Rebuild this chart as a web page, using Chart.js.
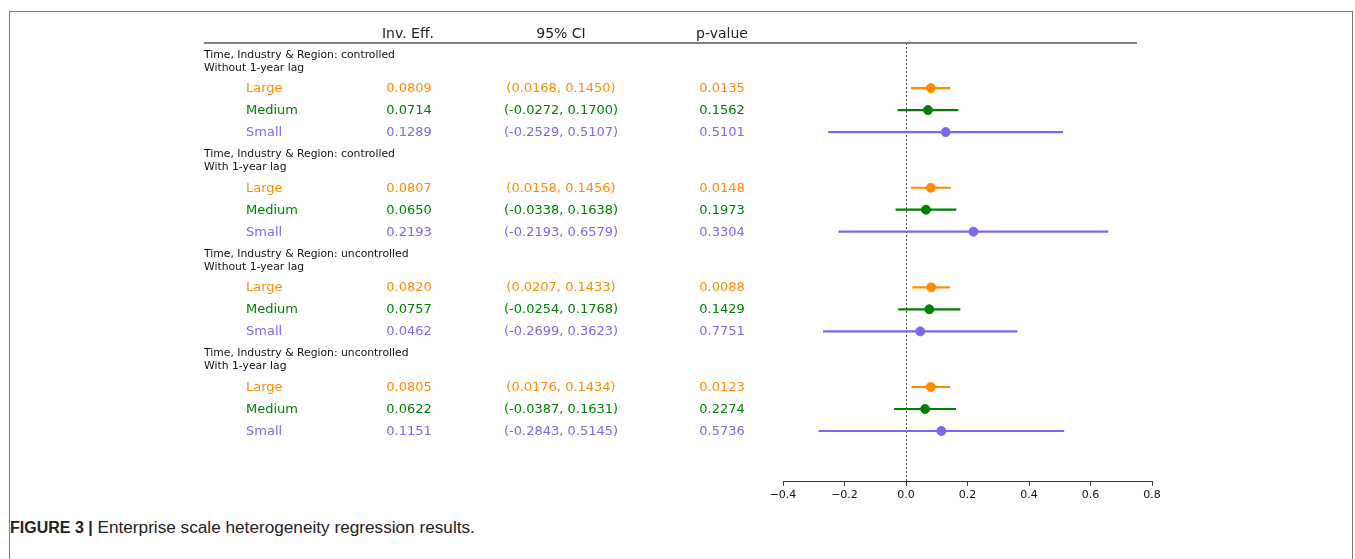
<!DOCTYPE html>
<html>
<head>
<meta charset="utf-8">
<script src="https://cdn.jsdelivr.net/npm/chart.js@4"></script>
<style>
  html, body { margin: 0; padding: 0; background: #fff; overflow: hidden; }
  body { width: 1355px; height: 559px; position: relative; }
  #frame { position: absolute; left: 9px; top: 11px; width: 1344px; height: 600px; border: 1px solid #7a7a7a; box-sizing: border-box; }
  #plot { position: absolute; left: 0; top: 0; }
  #caption { position: absolute; left: 10px; top: 517px; font-family: "Liberation Sans", Arial, sans-serif; font-size: 17.2px; color: #222; white-space: nowrap; }
  #caption b { font-weight: bold; font-size: 16px; }
</style>
</head>
<body>
<div id="frame"></div>
<canvas id="plot" width="1355" height="505"></canvas>
<div id="caption"><b>FIGURE 3 |</b> Enterprise scale heterogeneity regression results.</div>
<script>
// model groups (two-line titles)
const groupTitles = [
  ['Time, Industry & Region: controlled', 'Without 1-year lag'],
  ['Time, Industry & Region: controlled', 'With 1-year lag'],
  ['Time, Industry & Region: uncontrolled', 'Without 1-year lag'],
  ['Time, Industry & Region: uncontrolled', 'With 1-year lag'],
];
const sizes = ['Large', 'Medium', 'Small'];
const sizeColors = ['#ff8c00', '#008000', '#7b68ee'];

// per group: [Large, Medium, Small]
const invEff = [
  [0.0809, 0.0714, 0.1289],
  [0.0807, 0.0650, 0.2193],
  [0.0820, 0.0757, 0.0462],
  [0.0805, 0.0622, 0.1151],
];
const ciLow = [
  [0.0168, -0.0272, -0.2529],
  [0.0158, -0.0338, -0.2193],
  [0.0207, -0.0254, -0.2699],
  [0.0176, -0.0387, -0.2843],
];
const ciHigh = [
  [0.1450, 0.1700, 0.5107],
  [0.1456, 0.1638, 0.6579],
  [0.1433, 0.1768, 0.3623],
  [0.1434, 0.1631, 0.5145],
];
const pValues = [
  ['0.0135', '0.1562', '0.5101'],
  ['0.0148', '0.1973', '0.3304'],
  ['0.0088', '0.1429', '0.7751'],
  ['0.0123', '0.2274', '0.5736'],
];
const headers = ['Inv. Eff.', '95% CI', 'p-value'];
const xTicks = [-0.4, -0.2, 0.0, 0.2, 0.4, 0.6, 0.8];

// row position on the (hidden) y scale
const GROUP_STEP = 4.53;
const rowPos = (g, i) => g * GROUP_STEP + i;

const fmt = v => v.toFixed(4);

// error bar lines, one dataset per row
const ciDatasets = [];
invEff.forEach((grp, g) => {
  grp.forEach((v, i) => {
    ciDatasets.push({
      type: 'line',
      data: [{ x: ciLow[g][i], y: rowPos(g, i) }, { x: ciHigh[g][i], y: rowPos(g, i) }],
      borderColor: sizeColors[i],
      borderWidth: 2.2,
      pointRadius: 0,
      order: 2,
    });
  });
});

// point estimates, one dataset per size class
const pointDatasets = sizes.map((s, i) => ({
  type: 'scatter',
  label: s,
  data: invEff.map((grp, g) => ({ x: grp[i], y: rowPos(g, i) })),
  backgroundColor: sizeColors[i],
  borderColor: sizeColors[i],
  pointRadius: 4.5,
  order: 1,
}));

const tablePlugin = {
  id: 'forestTable',
  beforeDatasetsDraw(chart) {
    const { ctx, chartArea, scales } = chart;
    const x0 = scales.x.getPixelForValue(0);
    ctx.save();
    ctx.strokeStyle = '#444';
    ctx.lineWidth = 1;
    ctx.setLineDash([2, 2]);
    ctx.beginPath();
    ctx.moveTo(Math.round(x0) + 0.5, chartArea.top);
    ctx.lineTo(Math.round(x0) + 0.5, chartArea.bottom);
    ctx.stroke();
    ctx.restore();
  },
  afterDraw(chart) {
    const { ctx, chartArea, scales } = chart;
    const y = scales.y;
    ctx.save();
    // header row + rule
    ctx.fillStyle = '#222';
    ctx.font = '14px "DejaVu Sans"';
    ctx.textAlign = 'center';
    ctx.textBaseline = 'middle';
    const colX = [408, 561, 722];
    headers.forEach((h, k) => ctx.fillText(h, colX[k], chartArea.top - 9));
    ctx.strokeStyle = '#555';
    ctx.lineWidth = 1.6;
    ctx.beginPath();
    ctx.moveTo(204, chartArea.top);
    ctx.lineTo(1137, chartArea.top);
    ctx.stroke();

    groupTitles.forEach((t, g) => {
      const yc = y.getPixelForValue(rowPos(g, 0) - 1.22);
      ctx.font = '10.8px "DejaVu Sans"';
      ctx.textAlign = 'left';
      ctx.fillStyle = '#111';
      ctx.fillText(t[0], 204, yc - 6.5);
      ctx.fillText(t[1], 204, yc + 6.5);

      ctx.font = '13px "DejaVu Sans"';
      sizes.forEach((s, i) => {
        const yy = y.getPixelForValue(rowPos(g, i)) + 0.5;
        ctx.fillStyle = sizeColors[i];
        ctx.textAlign = 'left';
        ctx.fillText(s, 246, yy);
        ctx.textAlign = 'center';
        ctx.fillText(fmt(invEff[g][i]), 409, yy);
        ctx.fillText('(' + fmt(ciLow[g][i]) + ', ' + fmt(ciHigh[g][i]) + ')', 561, yy);
        ctx.fillText(pValues[g][i], 722, yy);
      });
    });
    ctx.restore();
  },
};

new Chart(document.getElementById('plot'), {
  data: { datasets: [...pointDatasets, ...ciDatasets] },
  options: {
    responsive: false,
    animation: false,
    layout: { padding: { left: 783, right: 203, top: 43, bottom: 0 } },
    plugins: { legend: { display: false }, tooltip: { enabled: false } },
    scales: {
      x: {
        type: 'linear',
        min: xTicks[0],
        max: xTicks[xTicks.length - 1],
        afterBuildTicks: axis => { axis.ticks = xTicks.map(v => ({ value: v })); },
        ticks: {
          autoSkip: false,
          maxRotation: 0,
          padding: 3,
          color: '#111',
          font: { family: 'DejaVu Sans', size: 11 },
          callback: v => (Math.abs(v) < 1e-9 ? '0.0' : v.toFixed(1).replace('-', '\u2212')),
        },
        grid: { drawOnChartArea: false, drawTicks: true, tickLength: 4, color: '#333' },
        border: { color: '#333' },
      },
      y: {
        type: 'linear',
        display: false,
        reverse: true,
        min: -2.05,
        max: 17.9,
      },
    },
  },
  plugins: [tablePlugin],
});
</script>
</body>
</html>
